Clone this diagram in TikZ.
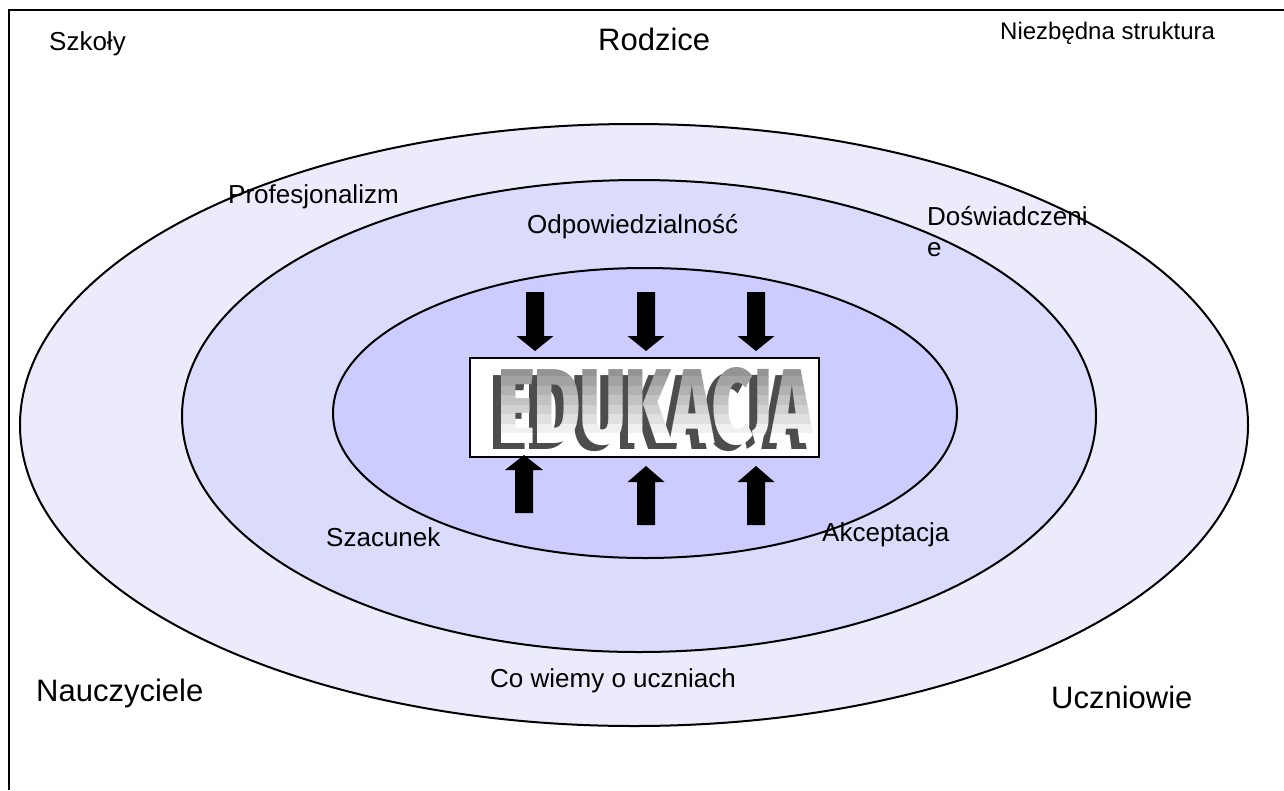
\documentclass[tikz,border=0pt]{standalone}
\usepackage{fontspec}
\setmainfont{Liberation Sans}
\IfFontExistsTF{Fira Sans Black}{\newfontfamily\edufont{Fira Sans Black}}{%
 \IfFontExistsTF{Fira Sans Heavy}{\newfontfamily\edufont{Fira Sans Heavy}}{%
   \newfontfamily\edufont{Liberation Sans Bold}}}
\definecolor{outerc}{RGB}{235,235,252}
\definecolor{midc}{RGB}{219,219,251}
\definecolor{innerc}{RGB}{204,204,255}
\definecolor{shadowc}{RGB}{77,77,77}
\newsavebox\capbox
\newsavebox\jbox
\newlength\jscaledp
\newcommand{\eduJ}{%
  \sbox\capbox{E}\sbox\jbox{J}%
  \pgfmathsetlength\jscaledp{\dp\jbox*\ht\capbox/(\ht\jbox+\dp\jbox)}%
  \raisebox{\jscaledp}{\resizebox*{!}{\ht\capbox}{J}}}
\newcommand{\eduword}{\resizebox{315pt}{76pt}{\edufont EDUKAC\eduJ A}}
\tikzset{
  ring/.style={draw=black, line width=2pt},
  labsmall/.style={inner sep=0pt, anchor=base west, font=\fontsize{24}{28}\selectfont},
  labmid/.style={inner sep=0pt, anchor=base west, font=\fontsize{26}{30}\selectfont},
  labbig/.style={inner sep=0pt, anchor=base west, font=\fontsize{31}{36}\selectfont},
  edutext/.style={inner sep=0pt, anchor=base west},
  arrowfill/.style={fill=black, draw=none}
}
\begin{document}
\begin{tikzpicture}[x=1pt,y=-1pt]
\useasboundingbox (0,0) rectangle (1284,790);
\fill[white] (0,0) rectangle (1284,790);
% frame
\draw[line width=2.5pt] (9,790) -- (9,10) -- (1284,10);
% ellipses
\draw[ring, fill=outerc] (634,425) ellipse [x radius=614, y radius=301];
\draw[ring, fill=midc] (639,416) ellipse [x radius=457, y radius=236];
\draw[ring, fill=innerc] (645,413) ellipse [x radius=312, y radius=145];
% EDUKACJA box
\node[fill=white, minimum width=349pt, minimum height=99pt, inner sep=0pt, anchor=north west] (boxbg) at (469,357) {};
\begin{scope}
  \clip (470,358) rectangle (817,455);
  \node[edutext, text=shadowc] (edushadow) at (490,449) {\eduword};
\end{scope}
\foreach \i in {0,...,7}{
  \pgfmathsetmacro{\ya}{ifthenelse(\i==0,358,367+\i*76/8)}
  \pgfmathsetmacro{\yb}{ifthenelse(\i==7,455,367+(\i+1)*76/8)}
  \pgfmathtruncatemacro{\p}{42-\i*42/7}
  \begin{scope}
    \clip (470,\ya) rectangle (817,\yb);
    \node[edutext, text=black!\p] (edu\i) at (498,443) {\eduword};
  \end{scope}
}
\node[draw=black, line width=2pt, minimum width=349pt, minimum height=99pt, inner sep=0pt, anchor=north west] (box) at (469,357) {};
% down arrows
\foreach \c in {535,646,756}{
  \fill[arrowfill] (\c-9,292) -- (\c+9,292) -- (\c+9,336) -- (\c+18.5,336) -- (\c,351) -- (\c-18.5,336) -- (\c-9,336) -- cycle;
}
% up arrows
\fill[arrowfill] (515,513) -- (533,513) -- (533,470) -- (543,470) -- (524,455) -- (505,470) -- (515,470) -- cycle;
\foreach \c in {646,756}{
  \fill[arrowfill] (\c-9,525) -- (\c+9,525) -- (\c+9,482) -- (\c+18.5,482) -- (\c,466) -- (\c-18.5,482) -- (\c-9,482) -- cycle;
}
% labels
\node[labmid] (szkoly) at (49,50) {Szkoły};
\node[labbig] (rodzice) at (598,50) {Rodzice};
\node[labsmall] (niezb) at (1000,39) {Niezbędna struktura};
\node[labmid] (prof) at (228,203) {Profesjonalizm};
\node[labmid] (odp) at (527,233) {Odpowiedzialność};
\node[labmid] (dosw) at (927,225) {Doświadczeni};
\node[labmid] (doswe) at (927,256) {e};
\node[labmid] (szac) at (326,546) {Szacunek};
\node[labmid] (akc) at (822,541) {Akceptacja};
\node[labmid] (cowiemy) at (490,687) {Co wiemy o uczniach};
\node[labbig] (naucz) at (36,701) {Nauczyciele};
\node[labbig] (uczn) at (1051,708) {Uczniowie};
\end{tikzpicture}
\end{document}
